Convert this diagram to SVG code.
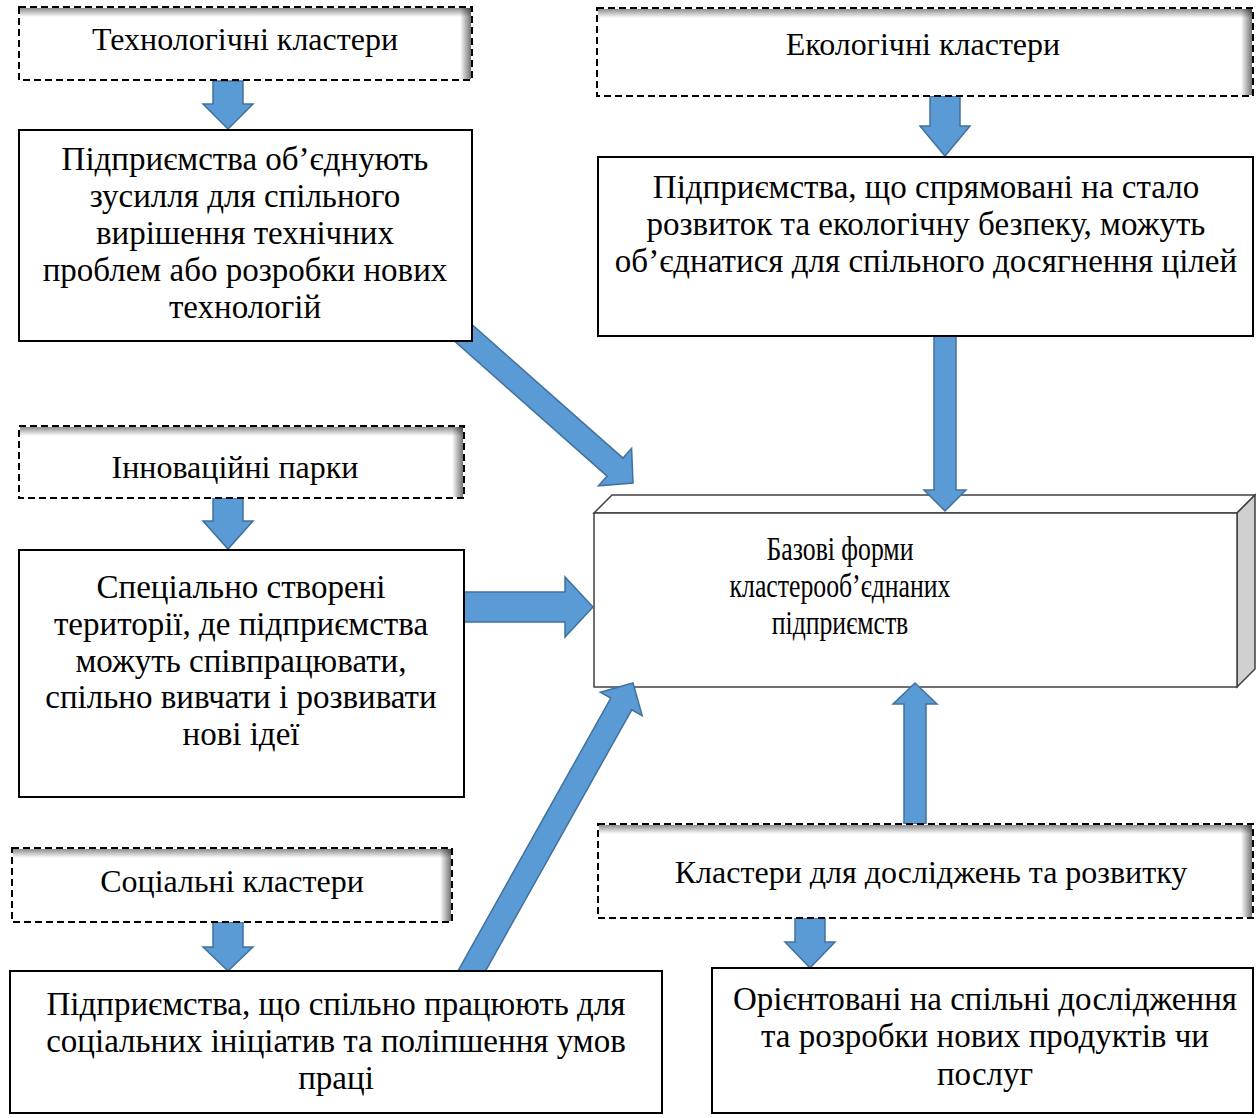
<svg xmlns="http://www.w3.org/2000/svg" width="1256" height="1118" viewBox="0 0 1256 1118">
<defs>
<linearGradient id="shTop" x1="0" y1="0" x2="0" y2="1">
<stop offset="0" stop-color="#000" stop-opacity="0.45"/>
<stop offset="1" stop-color="#000" stop-opacity="0"/>
</linearGradient>
<linearGradient id="shRight" x1="0" y1="0" x2="1" y2="0">
<stop offset="0" stop-color="#000" stop-opacity="0"/>
<stop offset="1" stop-color="#000" stop-opacity="0.55"/>
</linearGradient>
<style>
.box{fill:#fff;stroke:#000;stroke-width:2}
.dash{fill:#fff;stroke:#000;stroke-width:2;stroke-dasharray:7 4}
.arr{fill:#5B9BD5;stroke:#41719C;stroke-width:1.5;stroke-linejoin:miter}
.t{font-family:'Liberation Serif','Times New Roman',serif;fill:#000;text-anchor:middle}
.h{font-size:32px}
.d{font-size:33px}
.b{font-size:33px}
</style>
</defs>
<rect width="1256" height="1118" fill="#fff"/>

<g id="node-base">
<polygon points="594,513 612,495 1255,495 1237,513" fill="#fff" stroke="#404040" stroke-width="1.5"/>
<polygon points="1237,513 1255,495 1255,669 1237,687" fill="#d0d0d0" stroke="#404040" stroke-width="1.5"/>
<rect x="594" y="513" width="643" height="174" fill="#fff" stroke="#404040" stroke-width="1.5"/>
<text class="t b" transform="translate(840 0) scale(0.78 1)"><tspan x="0" y="560">Базові форми</tspan><tspan x="0" y="597">кластерооб’єднаних</tspan><tspan x="0" y="634">підприємств</tspan></text>
</g>

<g id="connectors">
<polygon class="arr" points="213,81 243,81 243,104 253,104 228,129 203,104 213,104"/>
<polygon class="arr" points="930,96 960,96 960,126 970,126 945,156 920,126 930,126"/>
<polygon class="arr" points="934,336 956,336 956,490 966,490 945,511 924,490 934,490"/>
<polygon class="arr" points="213,498 243,498 243,521 253,521 228,549 203,521 213,521"/>
<polygon class="arr" points="464,592 565,592 565,577 593,607 565,637 565,622 464,622"/>
<polygon class="arr" points="213,922 243,922 243,947 253,947 228,971 203,947 213,947"/>
<polygon class="arr" points="795,918 825,918 825,942 835,942 810,968 785,942 795,942"/>
<polygon class="arr" points="904,824 904,704 893,704 915,683 937,704 926,704 926,824"/>
<polygon class="arr" transform="translate(633,483) rotate(41.5)" points="-240,-12 -24,-12 -24,-25 0,0 -24,25 -24,12 -240,12"/>
<polygon class="arr" transform="translate(633,683) rotate(-60.75)" points="-345,-12 -24,-12 -24,-24 0,0 -24,24 -24,12 -345,12"/>
</g>

<g id="node-tech">
<rect class="dash" x="19" y="7" width="453" height="73"/>
<rect x="20" y="8" width="451" height="9" fill="url(#shTop)"/>
<rect x="460" y="8" width="11" height="71" fill="url(#shRight)"/>
<text class="t h" x="245" y="50">Технологічні кластери</text>
</g>

<g id="node-tech-desc">
<rect class="box" x="19" y="130" width="453" height="211"/>
<text class="t d"><tspan x="245" y="170">Підприємства об’єднують</tspan><tspan x="245" y="207">зусилля для спільного</tspan><tspan x="245" y="244">вирішення технічних</tspan><tspan x="245" y="281">проблем або розробки нових</tspan><tspan x="245" y="318">технологій</tspan></text>
</g>

<g id="node-eco">
<rect class="dash" x="597" y="8" width="656" height="88"/>
<rect x="598" y="9" width="654" height="9" fill="url(#shTop)"/>
<rect x="1241" y="9" width="11" height="86" fill="url(#shRight)"/>
<text class="t h" x="923" y="55">Екологічні кластери</text>
</g>

<g id="node-eco-desc">
<rect class="box" x="598" y="157" width="655" height="179"/>
<text class="t d"><tspan x="926" y="198">Підприємства, що спрямовані на стало</tspan><tspan x="926" y="235">розвиток та екологічну безпеку, можуть</tspan><tspan x="926" y="272">об’єднатися для спільного досягнення цілей</tspan></text>
</g>

<g id="node-innov">
<rect class="dash" x="19" y="426" width="445" height="72"/>
<rect x="20" y="427" width="443" height="9" fill="url(#shTop)"/>
<rect x="452" y="427" width="11" height="70" fill="url(#shRight)"/>
<text class="t h" x="235" y="478">Інноваційні парки</text>
</g>

<g id="node-innov-desc">
<rect class="box" x="19" y="550" width="445" height="247"/>
<text class="t d"><tspan x="241" y="598">Спеціально створені</tspan><tspan x="241" y="635">території, де підприємства</tspan><tspan x="241" y="672">можуть співпрацювати,</tspan><tspan x="241" y="708">спільно вивчати і розвивати</tspan><tspan x="241" y="745">нові ідеї</tspan></text>
</g>

<g id="node-social">
<rect class="dash" x="12" y="848" width="440" height="74"/>
<rect x="13" y="849" width="438" height="9" fill="url(#shTop)"/>
<rect x="440" y="849" width="11" height="72" fill="url(#shRight)"/>
<text class="t h" x="232" y="892">Соціальні кластери</text>
</g>

<g id="node-social-desc">
<rect class="box" x="10" y="971" width="652" height="142"/>
<text class="t d"><tspan x="336" y="1015">Підприємства, що спільно працюють для</tspan><tspan x="336" y="1052">соціальних ініціатив та поліпшення умов</tspan><tspan x="336" y="1089">праці</tspan></text>
</g>

<g id="node-research">
<rect class="dash" x="598" y="824" width="655" height="94"/>
<rect x="599" y="825" width="653" height="9" fill="url(#shTop)"/>
<rect x="1241" y="825" width="11" height="92" fill="url(#shRight)"/>
<text class="t h" x="931" y="883">Кластери для досліджень та розвитку</text>
</g>

<g id="node-research-desc">
<rect class="box" x="712" y="968" width="541" height="145"/>
<text class="t d"><tspan x="985" y="1010">Орієнтовані на спільні дослідження</tspan><tspan x="985" y="1047">та розробки нових продуктів чи</tspan><tspan x="985" y="1085">послуг</tspan></text>
</g>
</svg>
